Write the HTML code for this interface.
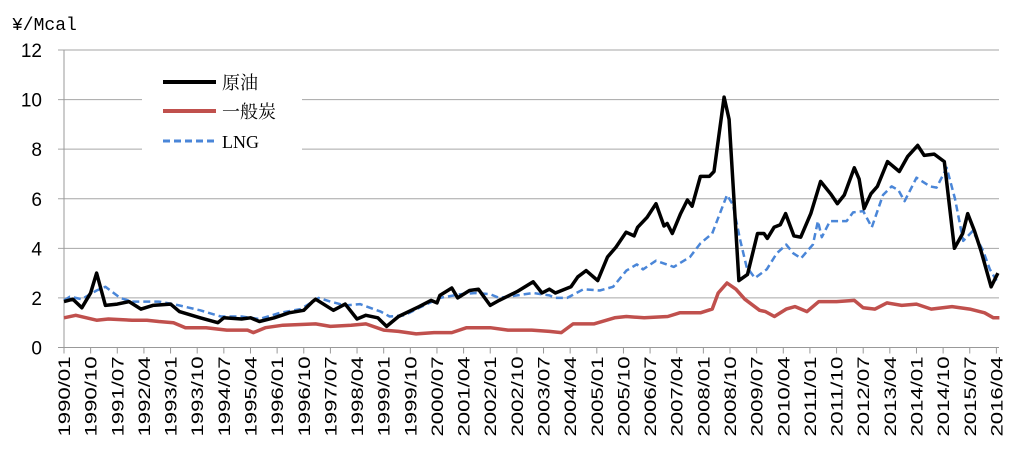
<!DOCTYPE html>
<html><head><meta charset="utf-8"><style>
body{margin:0;background:#fff;}
svg{display:block;font-family:"Liberation Sans","Noto Sans CJK JP",sans-serif;}
</style></head><body>
<svg id="chart" width="1024" height="450" viewBox="0 0 1024 450" xmlns="http://www.w3.org/2000/svg">
<text x="12" y="30" font-size="18" font-family="Liberation Mono, monospace" fill="#000">¥/Mcal</text>
<g id="grid"></g>
<g id="yticks"></g>
<g id="xticks"></g>
<g id="series"></g>
<g>
<rect x="142" y="64" width="160" height="98" fill="#fff"/>
<g><line x1="163" y1="82" x2="216" y2="82" stroke="#000" stroke-width="4"/><text x="222" y="89" font-size="18" font-family="Noto Serif CJK SC, serif">原油</text></g>
<g><line x1="163" y1="111" x2="216" y2="111" stroke="#c0504d" stroke-width="4"/><text x="222" y="118" font-size="18" font-family="Noto Serif CJK SC, serif">一般炭</text></g>
<g><line x1="163" y1="141" x2="216" y2="141" stroke="#4a86d8" stroke-width="3" stroke-dasharray="7,4"/><text x="222" y="148" font-size="18" font-family="Liberation Serif, serif">LNG</text></g>
</g>
</svg>
<script>
const yTicks=[0,2,4,6,8,10,12];
const startYear=1990, labelStep=9, totalMonths=316;
const oilMonths=[0,3,6,9,11,14,18,22,26,30,36,39,46,52,54,60,63,66,71,76,81,84,85,91,95,99,102,106,109,113,120,124,126,127,131,133,137,140,144,147,153,158.5,161.5,164,166,171.3,173.6,176.4,180.3,183.6,186.5,189.9,192.6,193.8,197,200,202.7,203.8,205.5,208.3,210.6,212.2,215,218,219.6,223,224.7,228,230.9,234.3,236.5,237.6,239.9,242,243.8,246.6,248.9,252.3,255.6,259,261.3,263.6,267,268.6,270.3,272.6,274.8,278.2,282.2,285,288.4,290.6,294,297.4,300.8,303.6,305.3,307.6,309.8,313.2,315.5];
const oilValues=[1.85,1.95,1.6,2.2,3.0,1.7,1.75,1.85,1.55,1.7,1.75,1.45,1.2,1.0,1.2,1.15,1.2,1.05,1.2,1.4,1.5,1.85,1.95,1.5,1.75,1.15,1.3,1.2,0.85,1.25,1.65,1.9,1.8,2.1,2.4,2.0,2.3,2.35,1.7,1.9,2.25,2.65,2.2,2.35,2.2,2.45,2.85,3.1,2.7,3.65,4.05,4.65,4.5,4.85,5.25,5.8,4.9,5.0,4.6,5.4,5.95,5.7,6.9,6.9,7.1,10.1,9.2,2.7,2.95,4.6,4.6,4.4,4.85,4.95,5.4,4.5,4.45,5.4,6.7,6.2,5.8,6.15,7.25,6.8,5.6,6.2,6.5,7.5,7.1,7.7,8.15,7.75,7.8,7.5,4.0,4.6,5.4,4.7,3.9,2.45,3.0];
const coalMonths=[0,4,11,15,23,28,32,37,41,48,55,62,64,68,74,85,90,97,102,108,113,119,125,131,136,144,150,158,164,168,172,179,186,190,196,204,208,215,219,221,224,227,230,235,237,240,244,247,251,255,261,267,270,274,278,283,288,293,300,306,311,314,316];
const coalValues=[1.2,1.3,1.1,1.15,1.1,1.1,1.05,1.0,0.8,0.8,0.7,0.7,0.6,0.8,0.9,0.95,0.85,0.9,0.95,0.7,0.65,0.55,0.6,0.6,0.8,0.8,0.7,0.7,0.65,0.6,0.95,0.95,1.2,1.25,1.2,1.25,1.4,1.4,1.55,2.2,2.6,2.35,1.95,1.5,1.45,1.25,1.55,1.65,1.45,1.85,1.85,1.9,1.6,1.55,1.8,1.7,1.75,1.55,1.65,1.55,1.4,1.2,1.2];
const lngMonths=[0,2,6,11,14,19,23,32,37,46,53,60,66,73,80,86,90,95,100,107,110,115,120,127,134,139,144,147,153,158.5,164,166,170,175.5,181,185.5,190,193.5,195.6,200,206,211.5,215,219,224,226,228.4,230.6,233.4,237.4,240.8,244,246.4,249,253,254.7,256,258.8,264.4,266.6,270,272.9,276.7,279.6,281.9,284,288,292.6,294.8,298.2,301,303.8,307,310.5,312.8,315.5];
const lngValues=[1.9,2.05,1.95,2.3,2.45,2.0,1.85,1.85,1.75,1.5,1.25,1.25,1.15,1.4,1.55,2.0,1.85,1.7,1.75,1.45,1.25,1.3,1.6,2.0,2.15,2.2,2.15,2.0,2.1,2.2,2.1,2.0,2.0,2.35,2.3,2.45,3.1,3.35,3.15,3.5,3.25,3.65,4.2,4.6,6.15,5.75,4.35,3.25,2.8,3.15,3.8,4.15,3.8,3.6,4.15,5.1,4.45,5.1,5.1,5.45,5.5,4.85,6.15,6.5,6.35,5.9,6.85,6.5,6.45,7.25,6.0,4.3,4.7,3.9,3.15,2.6];

const X0=64, X1=999, Y0=347.5, Y1=50, NS="http://www.w3.org/2000/svg";
const pxPerMonth=2.96;
function xScale(m){return X0+m*pxPerMonth;}
function yScale(v){return Y0-(v-0)/(12-0)*(Y0-Y1);}
function mk(tag,attrs,parent){const e=document.createElementNS(NS,tag);for(const k in attrs)e.setAttribute(k,attrs[k]);parent.appendChild(e);return e;}
const grid=document.getElementById('grid'), yt=document.getElementById('yticks'), xt=document.getElementById('xticks'), ser=document.getElementById('series');
yTicks.forEach(v=>{
  const l=mk('line',{x1:X0-6,x2:X1,y1:yScale(v),y2:yScale(v),stroke:v===0?'#999':'#a6a6a6','stroke-width':1},grid);
  
  
  const t=mk('text',{x:42,y:yScale(v)+7,'text-anchor':'end','font-size':19,fill:'#000'},yt);
  
  
  t.textContent=v;
});
const ax=mk('line',{x1:X0,x2:X0,y1:Y1,y2:Y0+6,stroke:'#999','stroke-width':1},grid);


for(let m=0;m<totalMonths;m+=labelStep){
  const x=xScale(m);
  const tk=mk('line',{x1:x,x2:x,y1:Y0,y2:Y0+6,stroke:'#999'},xt);
  
  
  const yr=startYear+Math.floor(m/12), mo=(m%12)+1;
  const lbl=yr+'/'+(mo<10?'0':'')+mo;
  const t=mk('text',{x:0,y:0,'text-anchor':'end','font-size':17,fill:'#000',textLength:80,lengthAdjust:'spacingAndGlyphs',transform:'translate('+(x+6)+','+(Y0+9)+') rotate(-90)'},xt);
  
  
  t.textContent=lbl;
}
function line(ms,vs,attrs,name){
  const d=ms.map((m,i)=>(i?'L':'M')+xScale(m).toFixed(1)+','+yScale(vs[i]).toFixed(1)).join('');
  const p=mk('path',Object.assign({d:d,fill:'none','stroke-linejoin':'round'},attrs),ser);
  
  
}
line(coalMonths,coalValues,{stroke:'#c0504d','stroke-width':3.5},'series-coal');
line(lngMonths,lngValues,{stroke:'#4a86d8','stroke-width':2.5,'stroke-dasharray':'7,4'},'series-lng');
line(oilMonths,oilValues,{stroke:'#000','stroke-width':3.5},'series-crude-oil');
</script>
</body></html>
